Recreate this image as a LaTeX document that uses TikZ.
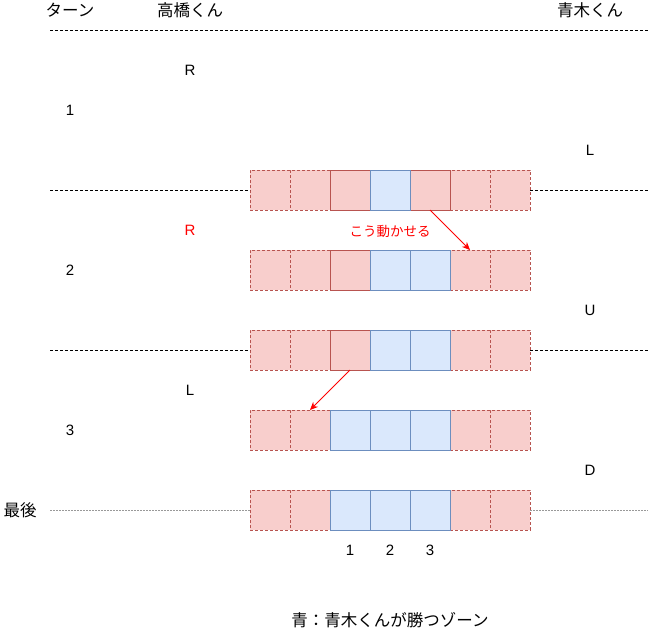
\documentclass[tikz,border=0pt]{standalone}
\usepackage{fontspec}
\setmainfont{Liberation Sans}
\newfontfamily\jpfont{Noto Sans CJK JP}
\usetikzlibrary{arrows.meta}
\definecolor{pinkfill}{HTML}{F8CECC}
\definecolor{pinkline}{HTML}{B85450}
\definecolor{bluefill}{HTML}{DAE8FC}
\definecolor{blueline}{HTML}{6C8EBF}
\definecolor{arrred}{HTML}{FF0000}
\definecolor{dotgray}{HTML}{999999}
\tikzset{
  cell/.style={minimum width=40pt,minimum height=40pt,inner sep=0pt,outer sep=0pt,line width=0.8pt},
  pinkd/.style={cell,fill=pinkfill,draw=pinkline,dash pattern=on 3pt off 2pt},
  pinks/.style={cell,fill=pinkfill,draw=pinkline},
  bluec/.style={cell,fill=bluefill,draw=blueline},
  lbl/.style={inner sep=0pt,font=\fontsize{15}{17}\selectfont},
  jp/.style={inner sep=0pt,font=\jpfont\fontsize{16.5}{19}\selectfont},
  sep/.style={draw=black,line width=0.7pt,dash pattern=on 2.5pt off 2.5pt},
  lastsep/.style={draw=dotgray,line width=1pt,dash pattern=on 1.5pt off 1.5pt},
  mv/.style={draw=arrred,line width=0.8pt,-{Stealth[length=8pt,width=7pt]}}
}
\begin{document}
\begin{tikzpicture}[x=1pt,y=-1pt]
\useasboundingbox (0,0) rectangle (652,632);
% headers
\node[jp] (hturn) at (70,10) {ターン};
\node[jp] (htaka) at (190,10) {高橋くん};
\node[jp] (haoki) at (590,10) {青木くん};
\coordinate (t0a) at (50,30);
\coordinate (t0b) at (648,30);
\draw[sep] (t0a) -- (t0b);
% row1 y=190
\foreach \i/\x in {1/270,2/310,6/470,7/510} \node[pinkd] (ra\i) at (\x,190) {};
\foreach \i/\x in {3/350,5/430} \node[pinks] (ra\i) at (\x,190) {};
\node[bluec] (ra4) at (390,190) {};
% row2 y=270
\foreach \i/\x in {1/270,2/310,6/470,7/510} \node[pinkd] (rb\i) at (\x,270) {};
\node[pinks] (rb3) at (350,270) {};
\foreach \i/\x in {4/390,5/430} \node[bluec] (rb\i) at (\x,270) {};
% row3 y=350
\foreach \i/\x in {1/270,2/310,6/470,7/510} \node[pinkd] (rc\i) at (\x,350) {};
\node[pinks] (rc3) at (350,350) {};
\foreach \i/\x in {4/390,5/430} \node[bluec] (rc\i) at (\x,350) {};
% row4 y=430
\foreach \i/\x in {1/270,2/310,6/470,7/510} \node[pinkd] (rd\i) at (\x,430) {};
\foreach \i/\x in {3/350,4/390,5/430} \node[bluec] (rd\i) at (\x,430) {};
% row5 y=510
\foreach \i/\x in {1/270,2/310,6/470,7/510} \node[pinkd] (re\i) at (\x,510) {};
\foreach \i/\x in {3/350,4/390,5/430} \node[bluec] (re\i) at (\x,510) {};
% separators
\coordinate (s1a) at (50,190); \coordinate (s1b) at (648,190);
\coordinate (s2a) at (50,350); \coordinate (s2b) at (648,350);
\coordinate (s3a) at (50,510); \coordinate (s3b) at (648,510);
\draw[sep] (s1a) -- (ra1.west);
\draw[sep] (ra7.east) -- (s1b);
\draw[sep] (s2a) -- (rc1.west);
\draw[sep] (rc7.east) -- (s2b);
\draw[lastsep] (s3a) -- (re1.west);
\draw[lastsep] (re7.east) -- (s3b);
% labels
\node[lbl] (m1) at (190,70) {R};
\node[lbl] (n1) at (70,110) {1};
\node[lbl] (a1) at (590,150) {L};
\node[lbl,text=arrred] (m2) at (190,230) {R};
\node[lbl] (n2) at (70,270) {2};
\node[lbl] (a2) at (590,310) {U};
\node[lbl] (m3) at (190,390) {L};
\node[lbl] (n3) at (70,430) {3};
\node[lbl] (a3) at (590,470) {D};
\node[jp] (last) at (20,510) {最後};
\node[lbl] (p1) at (350,550) {1};
\node[lbl] (p2) at (390,550) {2};
\node[lbl] (p3) at (430,550) {3};
\node[inner sep=0pt,text=arrred,font=\jpfont\fontsize{13.5}{15}\selectfont] (move) at (390,231) {こう動かせる};
\node[jp] (legend) at (390,620) {青：青木くんが勝つゾーン};
% arrows
\draw[mv] (ra5.south) -- (rb6.north);
\draw[mv] (rc3.south) -- (rd2.north);
\end{tikzpicture}
\end{document}
